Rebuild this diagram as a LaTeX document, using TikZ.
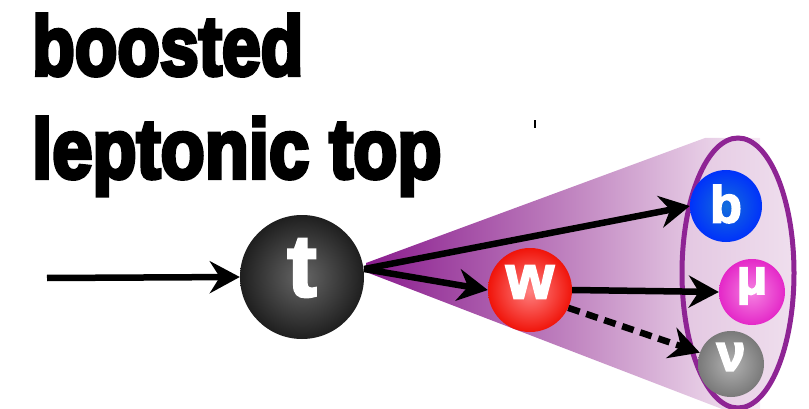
\documentclass[tikz,border=0pt]{standalone}
\usepackage{fontspec}
\setmainfont{Liberation Sans}
\newfontfamily\heavyfont[FakeBold=5]{Liberation Sans Bold}
\newfontfamily\ballfont[FakeBold=3]{Liberation Sans Bold}
\usetikzlibrary{arrows.meta}
\definecolor{conedark}{RGB}{138,28,142}
\definecolor{conemid}{RGB}{190,128,190}
\definecolor{conelight}{RGB}{246,234,244}
\definecolor{ellfill}{RGB}{234,212,232}
\definecolor{ellline}{RGB}{142,36,148}
\tikzset{
  arr/.style={line width=6.5pt,-{Stealth[length=30pt,width=32pt,inset=10pt]}},
  dasharr/.style={arr,dash pattern=on 12pt off 7pt},
  lbl/.style={text=white,font=\ballfont},
  ballnode/.style={circle,inner sep=0pt}
}
\begin{document}
\begin{tikzpicture}[x=1pt,y=-1pt]
\useasboundingbox (0,0) rectangle (809,409);
% title
\node[anchor=base west,inner sep=0pt] (t1) at (32,75) {\fontsize{84}{84}\heavyfont\scalebox{0.83}[1]{boosted}};
\node[anchor=base west,inner sep=0pt] (t2) at (32,178) {\fontsize{84}{84}\heavyfont\scalebox{0.86}[1]{leptonic top}};
% tiny mark
\fill[black] (534,120) rectangle (536,128);
% cone
\shade[left color=conedark,right color=conelight,middle color=conemid]
  (366,263) -- (705,138) -- (760,138) -- (760,409) -- (722,409) -- (366,272) -- cycle;
% ellipse
\shade[left color=ellfill!85!conemid,right color=ellfill!75!white,draw=ellline,line width=5pt]
  (738,273) ellipse [x radius=56, y radius=135];
% balls
\shade[inner color=gray!80!black,outer color=black!88] (302,277) circle (62);
\node[ballnode,minimum size=124pt] (t) at (302,277) {};
\node[lbl] at (302,268) {\fontsize{88}{88}\selectfont t};
\shade[inner color={rgb,255:red,255;green,130;blue,130},outer color={rgb,255:red,240;green,20;blue,10}] (530,290) circle (42);
\node[ballnode,minimum size=84pt] (w) at (530,290) {};
\node[lbl] at (530,282) {\fontsize{62}{62}\selectfont w};
\shade[inner color={rgb,255:red,20;green,110;blue,220},outer color={rgb,255:red,0;green,50;blue,250}] (726,206) circle (36);
\node[ballnode,minimum size=72pt] (b) at (726,206) {};
\node[lbl] at (726,204) {\fontsize{52}{52}\selectfont b};
\shade[inner color={rgb,255:red,245;green,130;blue,225},outer color={rgb,255:red,228;green,40;blue,200}] (752,292) circle (33);
\node[ballnode,minimum size=66pt] (mu) at (752,292) {};
\node[lbl] at (752,286) {\fontsize{50}{50}\selectfont μ};
\shade[inner color=gray!60,outer color=gray!95!black] (731,364) circle (33);
\node[ballnode,minimum size=66pt] (nu) at (731,364) {};
\node[lbl] at (731,357) {\fontsize{52}{52}\selectfont ν};
% arrows
\coordinate (start) at (47,278);
\draw[arr] (start) -- (t.west);
\path (t.east) ++(0,-8) coordinate (tb);
\draw[arr] (tb) -- (b.west);
\draw[arr] (tb) -- (w.west);
\draw[arr] (w.east) -- (mu.west);
\draw[dasharr] (w.-25) -- (nu.160);
\end{tikzpicture}
\end{document}
